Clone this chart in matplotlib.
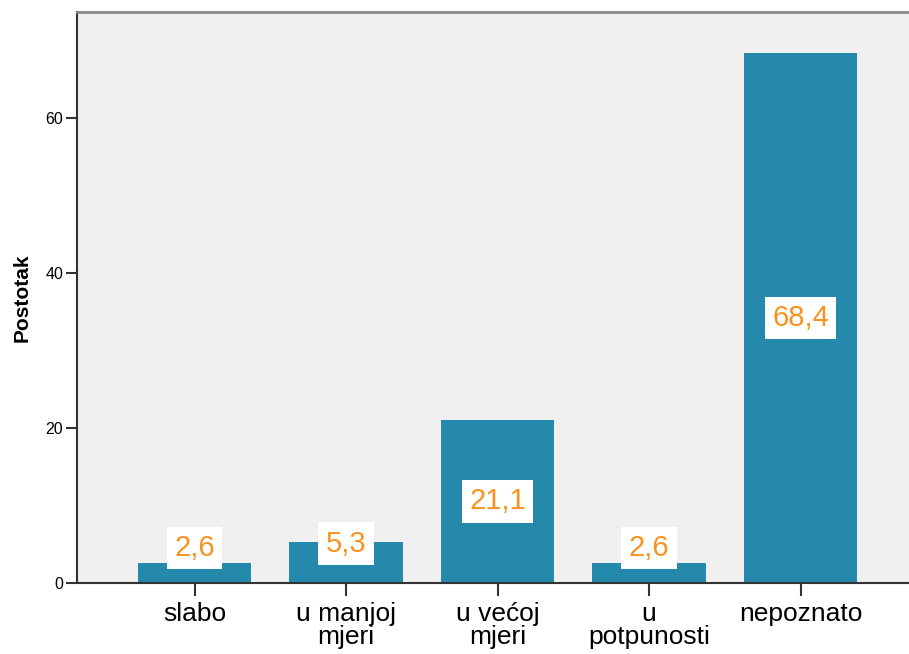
import matplotlib.pyplot as plt
from matplotlib import rcParams

rcParams["font.family"] = ["Liberation Sans", "DejaVu Sans"]

categories = ["slabo", "u manjoj\nmjeri", "u većoj\nmjeri", "u\npotpunosti", "nepoznato"]
percent = [2.6, 5.3, 21.1, 2.6, 68.4]
value_labels = ["2,6", "5,3", "21,1", "2,6", "68,4"]
y_ticks = [0, 20, 40, 60]

bar_color = "#2589AB"
label_color = "#F7931E"

fig = plt.figure(figsize=(9.09, 6.54), dpi=100)
ax = fig.add_axes([77 / 909, 1 - 583 / 654, 1 - 77 / 909, (583 - 11.5) / 654])
ax.set_facecolor("#F0F0F0")

x = list(range(len(categories)))
ax.bar(x, percent, width=0.75, color=bar_color, zorder=2)

for xi, val, txt in zip(x, percent, value_labels):
    # short bars get the label near the top, tall ones in the middle
    y = val / 2 if val > 10 else max(val - 0.2, 4.5)
    ax.text(xi, y, txt, ha="center", va="center", fontsize=21, color=label_color,
            bbox=dict(facecolor="white", edgecolor="none", boxstyle="square,pad=0.25"), zorder=3)

ax.set_xlim(-0.776, 4.716)
ax.set_ylim(0, 73.8)
ax.set_xticks(x)
ax.set_xticklabels(categories, fontsize=19, linespacing=0.95)
ax.set_yticks(y_ticks)
ax.set_yticklabels([str(t) for t in y_ticks], fontsize=11.5)
ax.tick_params(axis="y", length=8, width=1.5, color="#333333", pad=2)
ax.tick_params(axis="x", length=9, width=1.5, color="#333333", pad=5)

ax.set_ylabel("Postotak", fontsize=15, fontweight="bold", labelpad=10)

ax.spines["right"].set_visible(False)
ax.spines["left"].set_color("#333333")
ax.spines["left"].set_linewidth(1.5)
ax.spines["bottom"].set_color("#333333")
ax.spines["bottom"].set_linewidth(1.5)
ax.spines["top"].set_color("#888888")
ax.spines["top"].set_linewidth(2)

fig.savefig("out.png", dpi=100)
plt.close()
